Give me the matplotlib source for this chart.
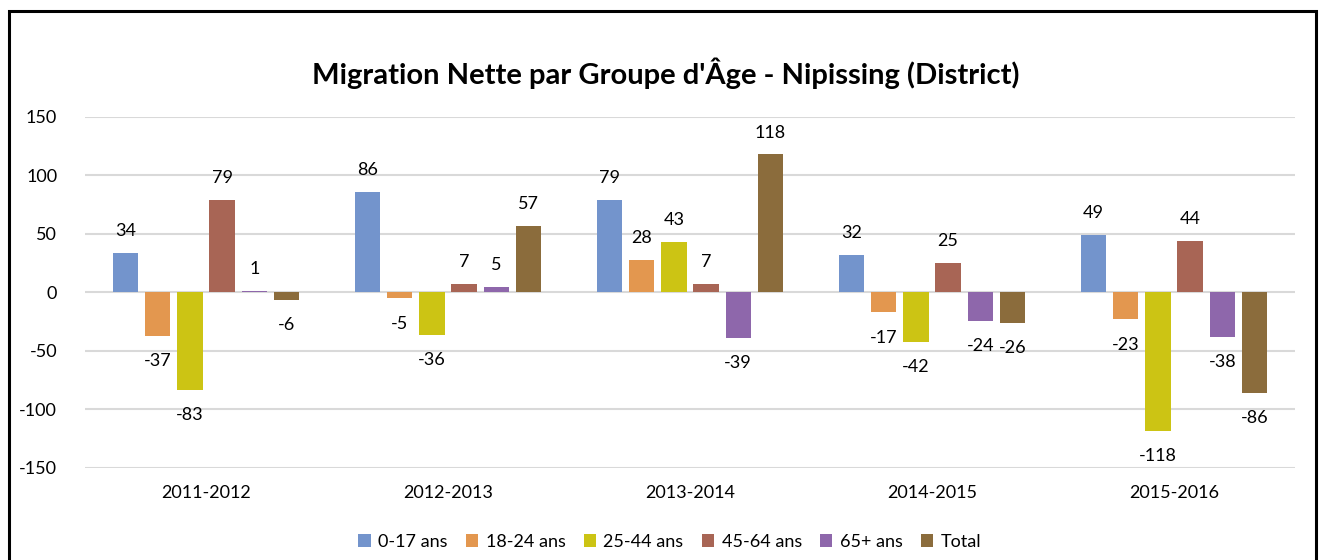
import matplotlib
matplotlib.use("Agg")
import matplotlib.pyplot as plt
from matplotlib.patches import Rectangle, Patch
import numpy as np

plt.rcParams['font.family'] = ['Lato', 'DejaVu Sans']

categories = ["2011-2012", "2012-2013", "2013-2014", "2014-2015", "2015-2016"]
series_names = ["0-17 ans", "18-24 ans", "25-44 ans", "45-64 ans", "65+ ans", "Total"]
v_0_17 = [34, 86, 79, 32, 49]
v_18_24 = [-37, -5, 28, -17, -23]
v_25_44 = [-83, -36, 43, -42, -118]
v_45_64 = [79, 7, 7, 25, 44]
v_65p = [1, 5, -39, -24, -38]
v_total = [-6, 57, 118, -26, -86]
series_values = [v_0_17, v_18_24, v_25_44, v_45_64, v_65p, v_total]
colors = ["#7394CC", "#E3974F", "#CCC414", "#A86555", "#8E67AB", "#8B6C3C"]
yticks = [-150, -100, -50, 0, 50, 100, 150]

fig = plt.figure(figsize=(13.21, 5.6), dpi=100)
ax = fig.add_axes([0.0643, 0.1643, 0.916, 0.6268])

x = np.arange(len(categories))
pitch = 0.133
width = 0.105
for i, (name, vals, c) in enumerate(zip(series_names, series_values, colors)):
    xs = x + (i - 2.5) * pitch
    ax.bar(xs, vals, width=width, color=c, label=name, zorder=3, linewidth=0)
    for xi, v in zip(xs, vals):
        if v >= 0:
            ax.annotate(str(v), (xi, v), xytext=(0, 10), textcoords='offset points',
                        ha='center', va='bottom', fontsize=13, color='#000000')
        else:
            ax.annotate(str(v), (xi, v), xytext=(0, -12.5), textcoords='offset points',
                        ha='center', va='top', fontsize=13, color='#000000')

ax.set_xlim(-0.5, len(categories) - 0.5)
ax.set_ylim(-150, 150)
ax.set_yticks(yticks)
ax.set_yticklabels([str(t) for t in yticks], fontsize=13)
ax.set_xticks(x)
ax.set_xticklabels(categories, fontsize=13)
ax.tick_params(axis='both', length=0, colors='#000000')
ax.tick_params(axis='y', pad=20)
ax.tick_params(axis='x', pad=12)
for s in ax.spines.values():
    s.set_visible(False)
ax.yaxis.grid(True, color='#D9D9D9', linewidth=1.5, zorder=0)
ax.set_axisbelow(True)

fig.text(0.504, 0.87, "Migration Nette par Groupe d'Âge - Nipissing (District)",
         ha='center', va='center', fontsize=21, fontweight='bold')

handles = [Patch(facecolor=c, label=n) for n, c in zip(series_names, colors)]
fig.legend(handles=handles, loc='center', bbox_to_anchor=(0.507, 0.033), ncol=6,
           frameon=False, fontsize=13, handlelength=0.7, handleheight=0.7,
           handletextpad=0.4, columnspacing=1.0)

fig.patches.append(Rectangle((9 / 1321, -0.05), (1316 - 9) / 1321, 1.05 - 11 / 560,
                             transform=fig.transFigure, fill=False,
                             edgecolor='black', linewidth=2.2))

fig.savefig("out.png", dpi=100)
